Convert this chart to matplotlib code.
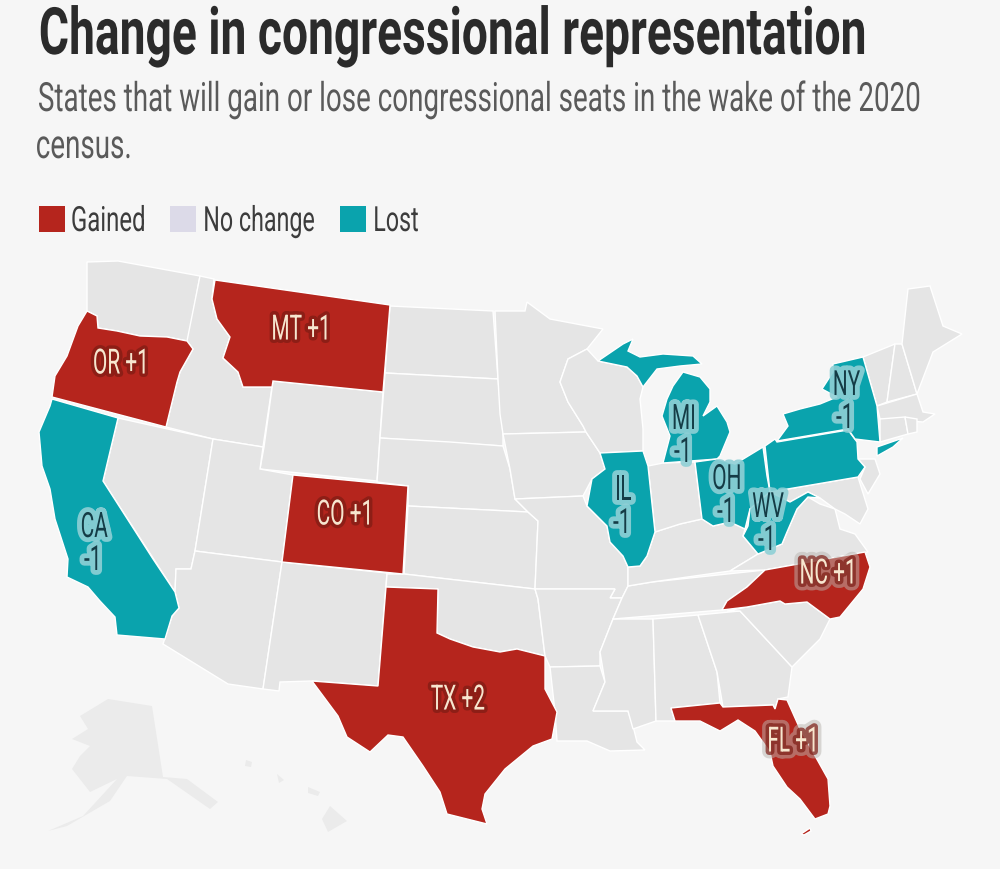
import matplotlib.pyplot as plt
import matplotlib.patheffects as pe
from matplotlib.patches import Rectangle
from matplotlib.text import Text
from matplotlib.transforms import Affine2D, Bbox

FONTE = ['Roboto', 'DejaVu Sans']
FUNDO = '#f6f6f6'
VERMELHO = '#b5251d'
AZUL = '#0aa3ad'
CINZA = '#e5e5e5'

LEGENDA_NOMES = ['Gained', 'No change', 'Lost']
LEGENDA_CORES = [VERMELHO, '#dcdae8', AZUL]

# contornos dos estados
OR = [(87,312),(97,317),(98,329),(117,332),(140,337),(167,338),(187,342),(193,350),(180,373),(177,383),(166,428),(52,398),(55,377),(67,357),(78,327)]
CA = [(52,400),(118,419),(103,482),(153,560),(175,593),(179,609),(172,617),(165,640),(117,636),(115,618),(100,602),(88,588),(67,578),(68,560),(55,520),(50,490),(42,467),(39,433),(50,407)]
MT = [(215,281),(390,306),(383,393),(273,382),(272,388),(243,388),(238,373),(223,359),(230,338),(217,320),(212,300)]
CO = [(293,476),(408,487),(403,575),(282,563)]
TX = [(386,588),(438,590),(437,634),(450,640),(473,648),(500,653),(517,650),(545,657),(545,690),(557,713),(552,740),(533,747),(505,770),(485,795),(482,810),(487,825),(447,815),(440,793),(423,767),(403,738),(388,736),(370,753),(347,738),(338,717),(312,682),(378,687)]
FL = [(671,709),(720,704),(723,708),(773,706),(775,710),(778,700),(787,701),(800,730),(828,780),(830,807),(828,815),(815,820),(800,800),(787,788),(773,767),(770,753),(755,732),(738,721),(720,732),(700,722),(675,722)]
FL_KEYS = [(801,835),(810,829),(811,832),(804,836)]
NC = [(865,553),(870,568),(863,590),(840,618),(830,620),(807,603),(785,605),(780,602),(747,608),(722,611),(727,602),(747,588),(765,571)]
MI_UP = [(598,362),(623,345),(633,340),(628,352),(640,358),(663,355),(693,357),(702,365),(680,367),(657,370),(643,388),(637,377),(627,368)]
MI_LOW = [(683,373),(700,378),(710,390),(710,403),(703,417),(717,407),(727,423),(730,433),(720,457),(717,460),(663,464),(670,437),(662,417),(667,400),(673,387)]
IL = [(600,454),(643,452),(648,467),(655,533),(647,557),(640,567),(628,568),(623,557),(610,543),(607,527),(587,507),(592,480),(605,470)]
OH = [(695,463),(717,460),(735,465),(763,448),(767,477),(770,493),(750,510),(745,530),(730,523),(713,527),(702,520)]
PA = [(765,447),(775,440),(777,443),(848,431),(857,443),(858,460),(865,468),(858,478),(770,493)]
NY = [(833,365),(863,358),(877,407),(880,443),(855,440),(848,430),(777,442),(788,427),(783,415),(800,410),(820,405),(837,398),(822,390),(833,373)]
NY_LI = [(877,448),(903,439),(893,448),(877,457)]
WV = [(770,493),(790,503),(808,493),(820,499),(808,498),(797,510),(787,533),(782,545),(758,555),(743,537),(748,527),(750,510)]

WA = [(87,263),(118,262),(200,277),(188,342),(167,338),(140,337),(117,332),(98,329),(97,317),(87,312)]
ID = [(200,277),(214,280),(212,300),(217,320),(230,338),(223,359),(238,373),(243,388),(272,388),(263,448),(213,440),(166,428),(177,383),(180,373),(193,350),(187,342)]
WY = [(273,382),(383,393),(377,482),(260,470),(264,448)]
NV = [(118,419),(213,440),(195,552),(191,570),(176,570),(175,593),(103,482)]
UT = [(213,440),(263,448),(260,470),(293,476),(282,563),(195,552)]
AZ = [(195,552),(282,563),(263,690),(228,685),(163,645),(172,617),(179,609),(175,593),(176,570),(191,570)]
NM = [(282,563),(387,574),(378,687),(312,682),(280,683),(279,692),(263,690)]
ND = [(390,307),(493,312),(498,380),(385,374)]
SD = [(385,374),(498,380),(503,435),(503,447),(380,439)]
NE = [(380,439),(450,443),(503,447),(510,470),(515,500),(528,513),(408,507),(408,487),(377,483)]
KS = [(408,507),(528,513),(538,522),(535,590),(404,575)]
OK = [(387,575),(404,575),(535,590),(538,600),(545,657),(517,650),(500,653),(473,648),(450,640),(437,634),(438,590),(386,588)]
MN = [(495,312),(525,312),(527,303),(550,320),(603,330),(587,350),(568,360),(560,383),(568,403),(583,427),(586,433),(503,435),(500,415),(498,380)]
IA = [(503,435),(586,433),(600,454),(605,470),(592,480),(583,497),(515,500),(510,470)]
WI = [(568,360),(587,350),(598,362),(627,368),(637,377),(643,388),(640,400),(643,430),(643,452),(600,454),(586,433),(583,427),(568,403),(560,383)]
MO = [(515,500),(583,497),(587,507),(607,527),(610,543),(623,557),(628,568),(628,587),(622,599),(610,599),(615,590),(535,590),(538,522),(528,513)]
AR = [(535,590),(615,590),(610,599),(622,599),(613,620),(600,653),(600,667),(550,668),(545,657),(538,600)]
LA = [(550,668),(600,667),(605,683),(593,712),(628,712),(633,727),(637,743),(645,751),(610,752),(587,742),(557,742),(555,713)]
MS = [(613,620),(653,620),(656,722),(633,730),(628,712),(593,712),(605,683),(600,653)]
AL = [(653,620),(698,616),(717,673),(720,704),(671,709),(675,722),(667,722),(656,722)]
GA = [(698,616),(740,612),(792,668),(788,698),(778,700),(775,710),(773,706),(723,708),(717,673)]
SC = [(727,612),(747,608),(780,602),(785,605),(807,603),(830,620),(820,640),(800,660),(792,668),(740,612)]
TN = [(628,587),(652,583),(765,571),(747,588),(727,602),(722,611),(613,620),(622,599)]
KY = [(628,587),(628,568),(640,567),(647,557),(655,533),(680,525),(702,520),(713,527),(730,523),(745,530),(743,537),(758,555),(730,572),(652,583)]
IN = [(648,467),(663,464),(695,463),(702,520),(680,525),(655,533)]
VA = [(730,572),(758,555),(782,545),(787,533),(797,510),(808,498),(820,505),(835,510),(840,530),(855,535),(868,553),(765,571)]
MD = [(770,493),(858,478),(868,510),(860,525),(845,515),(835,510),(820,499),(808,493),(790,503)]
NJ = [(858,460),(875,460),(880,475),(868,495),(860,480),(865,468)]
VT = [(863,358),(895,345),(887,403),(877,407)]
NH = [(895,345),(902,345),(917,395),(887,403)]
ME = [(902,345),(908,290),(930,287),(943,327),(962,335),(933,353),(917,395)]
MA = [(877,407),(917,395),(923,413),(935,415),(923,423),(880,420)]
CT = [(880,420),(905,418),(908,435),(880,443)]
RI = [(905,418),(917,420),(917,433),(908,435)]
AK = [(108,700),(152,707),(163,778),(187,780),(218,803),(210,810),(167,780),(127,777),(110,802),(67,827),(48,832),(83,817),(117,780),(90,793),(72,770),(80,757),(90,747),(72,740),(88,730),(80,717)]
HI = [(330,807),(347,822),(328,833),(322,820)]
HI_MAUI = [(308,788),(320,793),(318,797),(308,794)]
HI_OAHU = [(277,775),(284,781),(279,784)]
HI_KAUAI = [(246,761),(252,763),(251,768),(245,767)]

MUDOU = [OR, CA, MT, CO, TX, FL, FL_KEYS, NC, MI_UP, MI_LOW, IL, OH, PA, NY, NY_LI, WV]
MUDOU_SINAL = [1, -1, 1, 1, 2, 1, 1, 1, -1, -1, -1, -1, -1, -1, -1, -1]
IGUAL = [WA, ID, WY, NV, UT, AZ, NM, ND, SD, NE, KS, OK, MN, IA, WI, MO, AR, LA, MS, AL, GA, SC, TN, KY, IN, VA, MD, NJ, VT, NH, ME, MA, CT, RI]
SEPARADOS = [AK, HI, HI_MAUI, HI_OAHU, HI_KAUAI]

ROTULOS = ['OR +1', 'MT +1', 'CO +1', 'TX +2', 'NC +1', 'FL +1', 'CA\n-1', 'IL\n-1', 'MI\n-1', 'OH\n-1', 'WV\n-1', 'NY\n-1']
ROTULOS_X = [122, 302, 346, 458, 829, 794, 94, 623, 684, 727, 768, 846]
ROTULOS_Y = [365, 331, 516, 701, 575, 743, 545, 508, 437, 497, 525, 403]


def squeeze(tpath, affine, sx):
    meio = (tpath.get_extents().x0 + tpath.get_extents().x1) / 2
    return Affine2D().translate(-meio, 0).scale(sx, 1).translate(meio, 0) + affine


class StrokeEstreito(pe.Stroke):
    def __init__(self, sx, **kwargs):
        super().__init__(**kwargs)
        self.sx = sx

    def draw_path(self, renderer, gc, tpath, affine, rgbFace):
        super().draw_path(renderer, gc, tpath, squeeze(tpath, affine, self.sx), rgbFace)


class TextoEstreito(Text):
    def __init__(self, x, y, s, sx, **kwargs):
        super().__init__(x, y, s, **kwargs)
        self.sx = sx

    def get_window_extent(self, renderer=None, dpi=None):
        caixa = super().get_window_extent(renderer, dpi)
        meio = (caixa.x0 + caixa.x1) / 2
        largura = caixa.width * self.sx
        return Bbox.from_extents(meio - largura / 2, caixa.y0, meio + largura / 2, caixa.y1)


def put_text(x, y, s, largura, tamanho, cor, halos=(), **kwargs):
    # fonte condensada nao existe aqui, entao aperta o texto na horizontal
    efeitos = [StrokeEstreito(largura, linewidth=lw, foreground=c, alpha=a) for lw, c, a in halos]
    efeitos.append(StrokeEstreito(largura, linewidth=0, foreground=cor))
    t = TextoEstreito(x, y, s, largura, family=FONTE, fontsize=tamanho, color=cor, path_effects=efeitos, **kwargs)
    plt.gca().add_artist(t)
    t.set_zorder(5)
    return t


def draw_states(lista, sinais=None):
    for i, estado in enumerate(lista):
        xs, ys = zip(*estado)
        cor = CINZA
        if sinais is not None:
            cor = VERMELHO if sinais[i] > 0 else AZUL
        plt.fill(xs, ys, facecolor=cor, edgecolor='white', linewidth=1.0, zorder=2)


def draw_labels():
    for texto, x, y in zip(ROTULOS, ROTULOS_X, ROTULOS_Y):
        if '+' in texto:
            halos = [(5, '#7d1c14', 0.7)]
            cor = '#f7e6cf'
        else:
            halos = [(7, '#8fd0d6', 0.9)]
            cor = '#143c46'
        if texto in ('NC +1', 'FL +1'):
            halos = [(10, '#b9b5b0', 0.5)] + halos
        put_text(x, y, texto, 0.6, 25, cor, halos, ha='center', va='center', linespacing=1.0)


def draw_legend():
    for nome, cor, x, x_texto, largura in zip(LEGENDA_NOMES, LEGENDA_CORES, [39, 170, 340], [71, 203, 373], [0.69, 0.67, 0.67]):
        plt.gca().add_patch(Rectangle((x, 207), 26, 26, facecolor=cor, edgecolor='none'))
        t = put_text(x_texto, 232, nome, largura, 25, '#3c3c3c', ha='center', va='baseline')
        t.set_x(x_texto + t.get_window_extent(plt.gcf().canvas.get_renderer()).width / 2)


def run():
    plt.figure(figsize=(10, 8.7), facecolor=FUNDO)
    plt.axes([0, 0, 1, 1], facecolor=FUNDO)
    plt.xlim(0, 1000)
    plt.ylim(870, 0)
    plt.axis('off')

    draw_states(IGUAL)
    draw_states(MUDOU, MUDOU_SINAL)
    for estado in SEPARADOS:
        xs, ys = zip(*estado)
        plt.fill(xs, ys, facecolor='#ebebeb', edgecolor='none', zorder=2)
    draw_labels()

    # titulo e subtitulo, centrados na largura que ocupam na imagem
    put_text(452, 55, 'Change in congressional representation', 0.707, 47, '#2b2b2b', weight='bold', ha='center', va='baseline')
    put_text(479, 112, 'States that will gain or lose congressional seats in the wake of the 2020', 0.69, 29, '#5a5a5a', ha='center', va='baseline')
    put_text(84, 159, 'census.', 0.69, 29, '#5a5a5a', ha='center', va='baseline')

    draw_legend()

    # plt.show()
    plt.savefig('out.png', dpi=100, facecolor=FUNDO)


run()
